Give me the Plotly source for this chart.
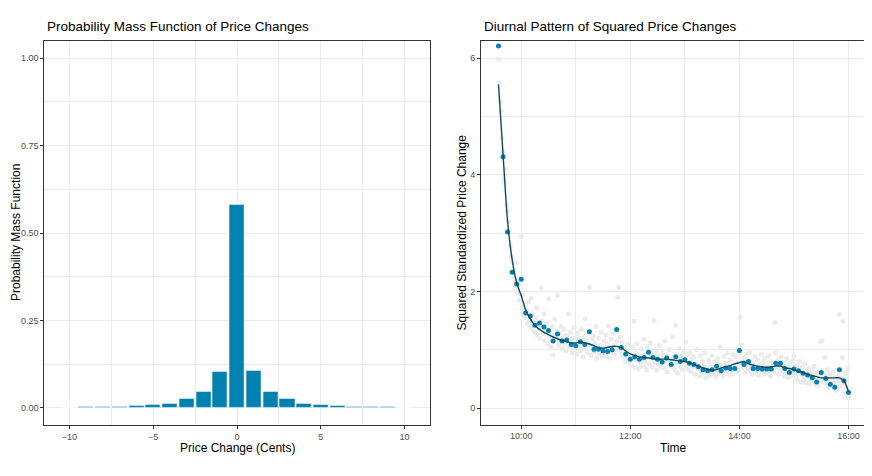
import pandas as pd
import plotly.graph_objects as go
from plotly.subplots import make_subplots

# =============================================================================
# DATA
# =============================================================================

# left panel: probability mass function of price changes (cents)
price_change = list(range(-10, 11))
pmf = [0.001, 0.002, 0.003, 0.004, 0.0055, 0.008, 0.013, 0.026, 0.046, 0.104,
       0.580,
       0.106, 0.046, 0.026, 0.013, 0.008, 0.005, 0.003, 0.002, 0.002, 0.001]

# right panel: 5-minute averages (blue) 09:35 -> 16:00
avg_0935 = [6.21, 4.31, 3.02, 2.33, 2.13]
avg_10 = [2.21, 1.63, 1.58, 1.42, 1.46, 1.39, 1.33, 1.15, 1.27, 1.15, 1.17, 1.09]
avg_11 = [1.07, 1.14, 1.09, 1.31, 1.01, 1.01, 0.98, 0.97, 1.00, 1.35, 1.04, 0.93]
avg_12 = [0.84, 0.88, 0.84, 0.87, 0.96, 0.87, 0.84, 0.79, 0.86, 0.75, 0.88, 0.80]
avg_13 = [0.83, 0.77, 0.75, 0.71, 0.66, 0.64, 0.66, 0.72, 0.64, 0.69, 0.68, 0.68]
avg_14 = [0.99, 0.75, 0.80, 0.68, 0.68, 0.67, 0.67, 0.67, 0.77, 0.77, 0.68, 0.61]
avg_15 = [0.67, 0.64, 0.60, 0.57, 0.52, 0.45, 0.61, 0.51, 0.41, 0.36, 0.66, 0.47]
avg_16 = [0.27]

# smooth fitted curve read at the same 5-minute times
fit_0935 = [5.55, 4.35, 3.20, 2.55, 2.15]
fit_10 = [1.93, 1.68, 1.53, 1.42, 1.35, 1.30, 1.26, 1.22, 1.19, 1.16, 1.14, 1.12]
fit_11 = [1.12, 1.13, 1.12, 1.10, 1.07, 1.04, 1.03, 1.04, 1.06, 1.06, 1.04, 0.98]
fit_12 = [0.93, 0.90, 0.88, 0.87, 0.86, 0.85, 0.84, 0.84, 0.84, 0.83, 0.82, 0.81]
fit_13 = [0.80, 0.78, 0.75, 0.72, 0.69, 0.67, 0.65, 0.66, 0.69, 0.71, 0.73, 0.76]
fit_14 = [0.78, 0.80, 0.76, 0.74, 0.72, 0.71, 0.70, 0.71, 0.72, 0.72, 0.69, 0.68]
fit_15 = [0.66, 0.63, 0.61, 0.58, 0.56, 0.54, 0.52, 0.52, 0.52, 0.52, 0.52, 0.47]
fit_16 = [0.28]

# 1-minute values (grey) 09:35 -> 16:00
grey_0935 = [5.98, 5.57, 5.25, 5.09, 4.63, 4.40, 3.91, 3.86, 4.11, 3.49,
             3.37, 3.20, 3.05, 2.77, 2.60, 2.50, 2.37, 2.25, 2.05, 2.18,
             2.49, 1.98, 2.12, 1.85, 1.95]
grey_10 = [2.94, 1.72, 1.95, 1.60, 1.78, 1.55, 1.68, 1.45, 1.82, 1.50,
           1.40, 1.89, 1.62, 1.35, 1.48, 1.30, 1.55, 1.72, 1.25, 1.44,
           1.38, 1.20, 2.06, 1.50, 1.28, 1.62, 1.15, 1.35, 1.45, 1.10,
           1.87, 1.30, 1.22, 1.05, 1.40, 0.91, 1.25, 1.52, 1.18, 1.32,
           1.93, 1.08, 1.28, 1.15, 1.40, 1.02, 1.22, 1.35, 1.10, 0.98,
           1.25, 1.18, 1.62, 1.05, 1.30, 1.12, 0.95, 1.20, 1.38, 1.00]
grey_11 = [1.15, 0.92, 1.28, 1.05, 1.20, 0.98, 1.35, 1.10, 0.88, 1.22,
           1.53, 1.02, 1.15, 0.95, 1.30, 2.07, 1.08, 0.90, 1.18, 1.25,
           0.97, 1.12, 1.40, 0.85, 1.05, 1.20, 0.93, 1.08, 1.30, 0.88,
           1.02, 1.15, 0.90, 1.25, 0.98, 1.10, 1.41, 0.86, 1.05, 1.18,
           0.95, 1.28, 1.08, 0.92, 1.35, 1.15, 1.90, 2.07, 1.02, 1.22,
           0.96, 1.12, 0.88, 1.05, 0.92, 0.80, 1.00, 0.85, 1.10, 0.78]
grey_12 = [0.92, 0.75, 1.05, 0.85, 1.49, 0.70, 0.95, 1.10, 0.82, 0.68,
           0.90, 0.78, 1.02, 0.86, 0.72, 1.18, 0.80, 0.93, 0.66, 1.05,
           0.88, 0.76, 1.12, 0.95, 0.70, 0.84, 1.50, 0.78, 0.98, 0.65,
           0.92, 0.80, 1.08, 0.72, 0.88, 0.75, 0.95, 0.68, 1.15, 0.82,
           0.90, 0.62, 0.85, 1.00, 0.74, 0.80, 1.22, 0.70, 0.88, 0.65,
           1.42, 0.78, 0.60, 0.86, 1.02, 0.72, 0.90, 0.66, 0.82, 0.95]
grey_13 = [0.85, 1.13, 0.72, 0.92, 0.66, 0.78, 0.95, 0.62, 0.85, 0.70,
           0.88, 0.58, 0.76, 1.00, 0.68, 0.72, 0.55, 0.90, 0.64, 0.80,
           0.60, 0.75, 0.95, 0.52, 0.70, 0.66, 0.82, 0.56, 0.74, 0.62,
           0.90, 0.58, 0.70, 0.80, 0.54, 0.68, 0.85, 0.60, 0.76, 1.05,
           0.64, 0.72, 0.55, 0.88, 0.70, 0.78, 0.62, 0.95, 0.68, 0.58,
           0.82, 0.70, 0.60, 0.92, 0.74, 0.66, 0.88, 0.76, 1.00, 0.64]
grey_14 = [0.95, 1.56, 0.78, 1.08, 0.70, 0.86, 0.62, 0.92, 0.75, 0.68,
           0.80, 0.96, 0.64, 0.72, 0.58, 0.76, 0.66, 0.88, 0.60, 0.70,
           0.82, 0.56, 0.74, 0.65, 0.92, 0.68, 0.78, 0.58, 0.85, 0.64,
           0.72, 0.60, 0.90, 0.70, 0.55, 0.80, 0.66, 0.75, 0.62, 1.47,
           0.95, 0.70, 0.82, 0.58, 0.76, 0.68, 0.88, 0.62, 0.78, 0.56,
           0.72, 0.64, 0.85, 0.52, 0.70, 0.60, 0.78, 0.55, 0.66, 0.82]
grey_15 = [0.90, 0.62, 0.55, 0.72, 0.48, 0.66, 0.80, 0.58, 0.45, 0.70,
           0.62, 0.52, 0.76, 0.44, 0.60, 0.55, 0.68, 0.42, 0.58, 0.50,
           0.64, 0.46, 0.72, 0.40, 0.56, 0.50, 0.62, 0.38, 0.58, 1.14,
           0.45, 1.16, 0.60, 0.52, 0.87, 0.42, 0.55, 0.66, 0.36, 0.50,
           0.58, 0.40, 0.48, 0.62, 0.35, 0.52, 0.44, 0.30, 0.56, 0.46,
           1.61, 0.38, 0.52, 0.87, 1.49, 0.42, 0.25, 0.60, 0.34, 0.68]
grey_16 = [0.18]

avg_values = avg_0935 + avg_10 + avg_11 + avg_12 + avg_13 + avg_14 + avg_15 + avg_16
fit_values = fit_0935 + fit_10 + fit_11 + fit_12 + fit_13 + fit_14 + fit_15 + fit_16
grey_values = grey_0935 + grey_10 + grey_11 + grey_12 + grey_13 + grey_14 + grey_15 + grey_16

day = "2024-01-02"
times_5min = pd.date_range(f"{day} 09:35", f"{day} 16:00", freq="5min")
times_1min = pd.date_range(f"{day} 09:35", f"{day} 16:00", freq="1min")

# =============================================================================
# STYLE
# =============================================================================

# the html page body has an 8px default margin, so the figure is drawn
# 8px smaller and every position below is given in window pixels
BODY = 8
W, H = 872 - BODY, 476 - BODY
FONT = "Liberation Sans, Arial, sans-serif"
BLUE = "#0081AF"
FIT = "#0E4A5C"
GREY_PT = "#EBEBEB"
GRID = "#EBEBEB"
BORDER = "#333333"
TICKTXT = "#4D4D4D"


def px_x(p):
    return (p - BODY) / W


def px_y(p):
    return 1 - (p - BODY) / H


# =============================================================================
# FIGURE
# =============================================================================

fig = make_subplots(rows=1, cols=2)

fig.add_trace(go.Bar(
    x=price_change, y=pmf, width=0.9,
    marker=dict(color=BLUE, line=dict(color="white", width=0.5)),
    showlegend=False,
), row=1, col=1)

fig.add_trace(go.Scatter(
    x=times_1min, y=grey_values, mode="markers",
    marker=dict(color=GREY_PT, size=5),
    showlegend=False,
), row=1, col=2)

fig.add_trace(go.Scatter(
    x=times_5min, y=avg_values, mode="markers",
    marker=dict(color=BLUE, size=5),
    showlegend=False,
), row=1, col=2)

fig.add_trace(go.Scatter(
    x=times_5min, y=fit_values, mode="lines",
    line=dict(color=FIT, width=1.4, shape="spline", smoothing=0.8),
    showlegend=False,
), row=1, col=2)

axis_common = dict(
    automargin=False,
    showline=True, mirror=True, linecolor=BORDER, linewidth=1,
    ticks="outside", ticklen=3, tickcolor=BORDER, tickwidth=1,
    tickfont=dict(family=FONT, size=9, color=TICKTXT),
    showgrid=True, gridcolor=GRID, gridwidth=1, zeroline=False,
)

fig.update_xaxes(
    axis_common, row=1, col=1,
    domain=[px_x(44.3), px_x(429.7)], range=[-11.5, 11.5],
    tickvals=[-10, -5, 0, 5, 10],
    minor=dict(tickvals=[-7.5, -2.5, 2.5, 7.5], showgrid=True,
               gridcolor=GRID, gridwidth=0.5, ticks=""),
)
fig.update_yaxes(
    axis_common, row=1, col=1,
    domain=[px_y(425.3), px_y(40.7)], range=[-0.05, 1.05],
    tickvals=[0, 0.25, 0.5, 0.75, 1.0], tickformat=".2f",
    minor=dict(tickvals=[0.125, 0.375, 0.625, 0.875], showgrid=True,
               gridcolor=GRID, gridwidth=0.5, ticks=""),
)

fig.update_xaxes(
    axis_common, row=1, col=2, type="date",
    domain=[px_x(481), px_x(866)],
    range=[f"{day} 09:15:45", f"{day} 16:19:15"],
    tickvals=[f"{day} 10:00", f"{day} 12:00", f"{day} 14:00", f"{day} 16:00"],
    ticktext=["10:00", "12:00", "14:00", "16:00"],
    minor=dict(tickvals=[f"{day} 11:00", f"{day} 13:00", f"{day} 15:00"],
               showgrid=True, gridcolor=GRID, gridwidth=0.5, ticks=""),
)
fig.update_yaxes(
    axis_common, row=1, col=2,
    domain=[px_y(424.5), px_y(40.7)], range=[-0.28, 6.30],
    tickvals=[0, 2, 4, 6],
    minor=dict(tickvals=[1, 3, 5], showgrid=True,
               gridcolor=GRID, gridwidth=0.5, ticks=""),
)

# titles and axis labels
labels = [
    dict(text="Probability Mass Function of Price Changes", x=px_x(45), y=px_y(26.5),
         xanchor="left", yanchor="middle", size=13.5, angle=0),
    dict(text="Diurnal Pattern of Squared Price Changes", x=px_x(481.5), y=px_y(26.5),
         xanchor="left", yanchor="middle", size=13.5, angle=0),
    dict(text="Price Change (Cents)", x=px_x(237), y=px_y(447.5),
         xanchor="center", yanchor="middle", size=12, angle=0),
    dict(text="Time", x=px_x(673.5), y=px_y(447.5),
         xanchor="center", yanchor="middle", size=12, angle=0),
    dict(text="Probability Mass Function", x=px_x(16), y=px_y(233),
         xanchor="center", yanchor="middle", size=12, angle=-90),
    dict(text="Squared Standardized Price Change", x=px_x(461.5), y=px_y(233),
         xanchor="center", yanchor="middle", size=12, angle=-90),
]
for lab in labels:
    fig.add_annotation(
        text=lab["text"], x=lab["x"], y=lab["y"], xref="paper", yref="paper",
        xanchor=lab["xanchor"], yanchor=lab["yanchor"], textangle=lab["angle"],
        showarrow=False, font=dict(family=FONT, size=lab["size"], color="black"),
    )

fig.update_layout(
    width=W, height=H,
    margin=dict(l=0, r=0, t=0, b=0, pad=0),
    plot_bgcolor="white", paper_bgcolor="white",
    bargap=0, font=dict(family=FONT),
)

fig.write_html("out.html")
